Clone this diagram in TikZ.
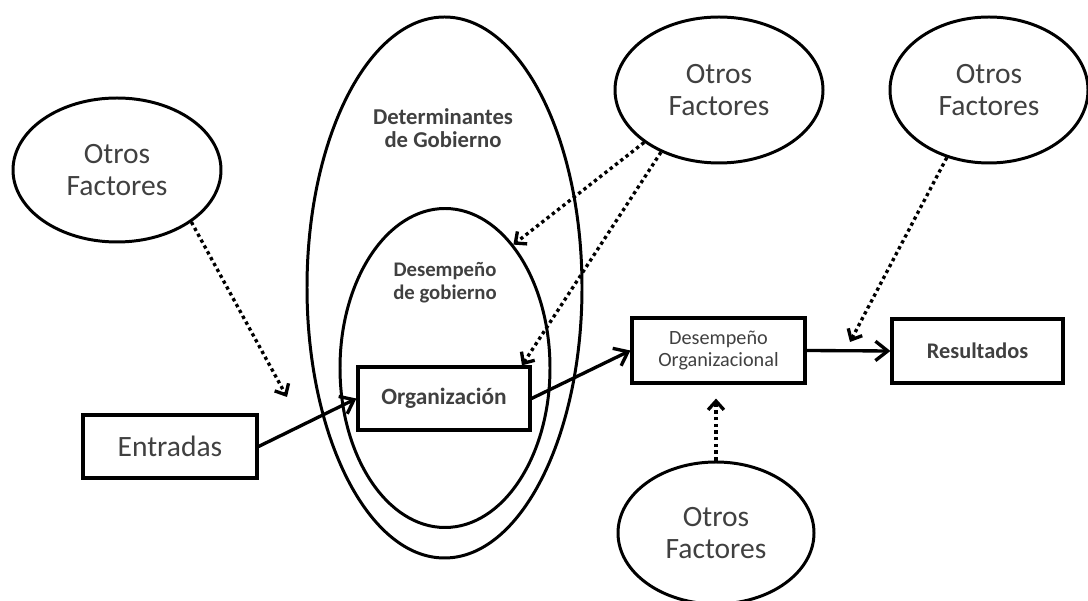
\documentclass[tikz,border=0pt]{standalone}
\usepackage{fontspec}
\setmainfont{Carlito}
\usetikzlibrary{shapes.geometric,arrows.meta}
\tikzset{
  otros/.style={draw, ellipse, line width=1.7pt, inner sep=0pt, text=black!75, align=center,
    font=\fontsize{16.8}{18.2}\selectfont},
  caja/.style={draw, rectangle, line width=1.8pt, inner sep=0pt, text=black!75, align=center},
  flecha/.style={line width=1.9pt, -{Straight Barb[length=7pt,width=11pt]}},
  punteada/.style={line width=1.9pt, dash pattern=on 1.9pt off 1.9pt,
    -{Straight Barb[length=5pt,width=9pt]}}
}
\begin{document}
\begin{tikzpicture}
\useasboundingbox (0,0) rectangle (21.76,-12.02);

\node[draw, ellipse, line width=1.7pt, minimum width=5.50cm, minimum height=10.82cm] (det) at (8.89,-5.75) {};
\node[draw, ellipse, line width=1.7pt, minimum width=4.20cm, minimum height=6.38cm] (des) at (8.90,-7.36) {};
\node[text=black!75, align=center, font=\bfseries\fontsize{12.9}{13}\selectfont] (detlabel) at (8.86,-2.56) {Determinantes\\de Gobierno};
\node[text=black!75, align=center, font=\bfseries\fontsize{11.8}{13}\selectfont] (deslabel) at (8.90,-5.66) {Desempeño\\de gobierno};

\node[otros, minimum width=4.16cm, minimum height=2.88cm] (otros1) at (2.34,-3.40) {Otros\\Factores};
\node[otros, minimum width=4.16cm, minimum height=2.92cm] (otros2) at (14.38,-1.80) {Otros\\Factores};
\node[otros, minimum width=3.96cm, minimum height=2.92cm] (otros3) at (19.78,-1.80) {Otros\\Factores};
\node[otros, minimum width=3.92cm, minimum height=2.84cm] (otros4) at (14.32,-10.66) {Otros\\Factores};

\node[caja, minimum width=3.48cm, minimum height=1.26cm, font=\fontsize{16.8}{18}\selectfont] (entradas) at (3.40,-8.93) {Entradas};
\node[caja, minimum width=3.44cm, minimum height=1.26cm, font=\bfseries\fontsize{13.3}{14}\selectfont] (org) at (8.88,-7.97) {Organización};
\node[caja, minimum width=3.46cm, minimum height=1.30cm, font=\fontsize{11.5}{12}\selectfont] (desorg) at (14.37,-7.01) {Desempeño\\Organizacional};
\node[caja, minimum width=3.42cm, minimum height=1.28cm, font=\bfseries\fontsize{12.7}{13}\selectfont] (result) at (19.55,-7.02) {Resultados};

\coordinate (t1) at (5.74,-7.94);
\coordinate (t3) at (17.00,-6.84);

\path[draw,flecha] (entradas.east) -- (org.west);
\path[draw,flecha] (org.east) -- (desorg.west);
\path[draw,flecha] (desorg.east) -- (result.west);

\path[draw,punteada] (otros1.-35) -- (t1);
\path[draw,punteada] (otros2.-145) -- (des.61);
\path[draw,punteada] (otros2.-133) -- (org.23);
\path[draw,punteada] (otros3.-122) -- (t3);
\path[draw,punteada,shorten >=0.28cm] (otros4.north) -- (otros4.north |- desorg.south);
\end{tikzpicture}
\end{document}
